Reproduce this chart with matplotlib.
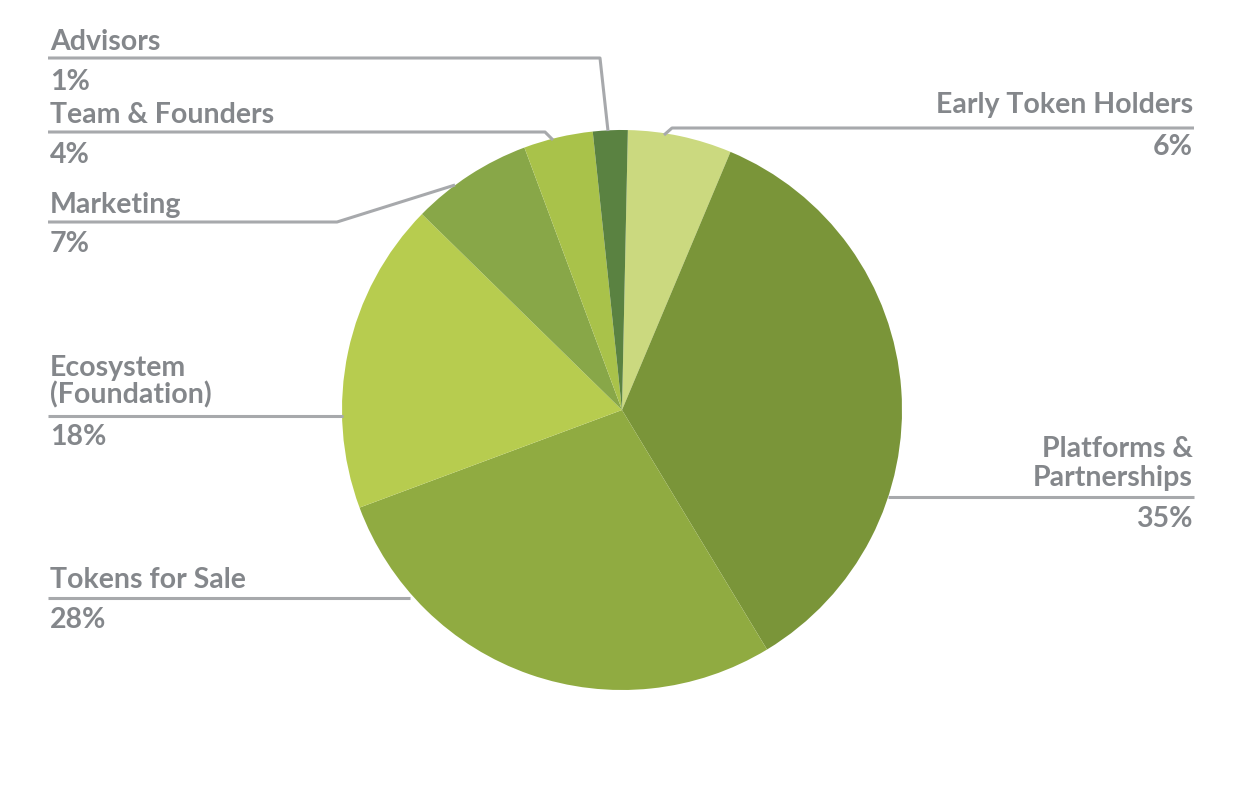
import matplotlib
matplotlib.use("Agg")
import matplotlib.pyplot as plt

# ---- data ----
categories = ["Early Token Holders", "Platforms &\nPartnerships", "Tokens for Sale",
              "Ecosystem\n(Foundation)", "Marketing", "Team & Founders", "Advisors"]
values = [6, 35, 28, 18, 7, 4, 2]
pct_labels = ["6%", "35%", "28%", "18%", "7%", "4%", "1%"]
colors = ["#cbd97f", "#7a9539", "#90ab41", "#b7cc4f", "#88a748", "#a9c24a", "#5a8241"]

W, H = 1239, 790
fig = plt.figure(figsize=(W / 100, H / 100), dpi=100)
ax = fig.add_axes([0, 0, 1, 1])

cx, cy, r = 622, H - 410, 280
ax.pie(values, colors=colors, startangle=88.8, counterclock=False,
       center=(cx, cy), radius=r, frame=True,
       wedgeprops=dict(linewidth=0))
ax.set_xlim(0, W)
ax.set_ylim(0, H)
ax.set_aspect("equal")
ax.axis("off")

txt_color = "#84878b"
line_color = "#a7a9ac"
font = dict(family="Lato", weight="bold", size=20.5, color=txt_color)

# layout per label: (side, name baselines, pct baseline, leader polyline in pixel coords)
layout = {
    "Advisors": ("left", [50], 90, [(48, 58), (600, 58), (608, 131)]),
    "Team & Founders": ("left", [123], 163, [(48, 132), (545, 132), (553, 140)]),
    "Marketing": ("left", [213], 252, [(48, 222), (337, 222), (455, 185)]),
    "Ecosystem\n(Foundation)": ("left", [376, 403], 445, [(48, 416), (343, 416)]),
    "Tokens for Sale": ("left", [588], 628, [(48, 598), (410, 598)]),
    "Early Token Holders": ("right", [113], 155, [(1194, 128), (672, 128), (664, 135)]),
    "Platforms &\nPartnerships": ("right", [457, 486], 527, [(1194, 497), (888, 497)]),
}

for cat, pct in zip(categories, pct_labels):
    side, name_ys, pct_y, pts = layout[cat]
    x = 50 if side == "left" else 1193
    ha = "left" if side == "left" else "right"
    for line, yb in zip(cat.split("\n"), name_ys):
        ax.text(x, H - yb, line, ha=ha, va="baseline", **font)
    ax.text(x, H - pct_y, pct, ha=ha, va="baseline", **font)
    xs = [p[0] for p in pts]
    ys = [H - p[1] for p in pts]
    ax.plot(xs, ys, color=line_color, lw=2.2, solid_capstyle="butt", zorder=1)

fig.savefig("out.png", dpi=100, facecolor="white")
